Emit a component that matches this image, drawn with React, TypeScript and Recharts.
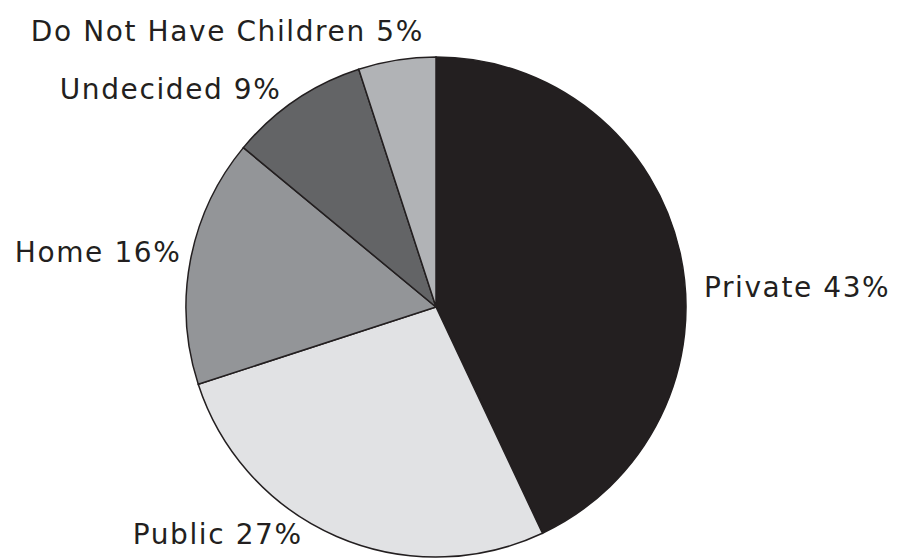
import React from 'react';
import { PieChart, Pie, Cell } from 'recharts';

const categories = ['Private', 'Public', 'Home', 'Undecided', 'Do Not Have Children'];
const shares = [43, 27, 16, 9, 5];
const colors = ['#231f20', '#e1e2e4', '#939598', '#636466', '#b1b3b6'];

// label nudges relative to the slice's arc midpoint: [dx, dy, anchor]
const labelNudge: [number, number, string][] = [
  [24, 45, 'start'],
  [-34, 8, 'end'],
  [-9, 2, 'end'],
  [-14, -1, 'end'],
  [27, -19, 'end'],
];

const data = categories.map((name, i) => ({ name, value: shares[i] }));

const RADIAN = Math.PI / 180;

const renderLabel = (props: any) => {
  const { cx, cy, midAngle, outerRadius, index, name, value } = props;
  const x = cx + outerRadius * Math.cos(-midAngle * RADIAN);
  const y = cy + outerRadius * Math.sin(-midAngle * RADIAN);
  const [dx, dy, anchor] = labelNudge[index];
  return (
    <text
      x={x + dx}
      y={y + dy}
      textAnchor={anchor as any}
      fill="#231f20"
      fontFamily="'DejaVu Sans', sans-serif"
      fontSize={28}
      letterSpacing={1.6}
    >
      {`${name} ${value}%`}
    </text>
  );
};

export default function App() {
  return (
    <div style={{ position: 'absolute', left: 0, top: 0, width: 903, height: 558, background: '#fff' }}>
      <PieChart width={903} height={558} margin={{ top: 0, right: 0, bottom: 0, left: 0 }}>
        <Pie
          data={data}
          dataKey="value"
          nameKey="name"
          cx={436}
          cy={307}
          outerRadius={250}
          startAngle={90}
          endAngle={-270}
          stroke="#231f20"
          strokeWidth={1.5}
          label={renderLabel}
          labelLine={false}
          isAnimationActive={false}
        >
          {data.map((d, i) => (
            <Cell key={d.name} fill={colors[i]} />
          ))}
        </Pie>
      </PieChart>
    </div>
  );
}
